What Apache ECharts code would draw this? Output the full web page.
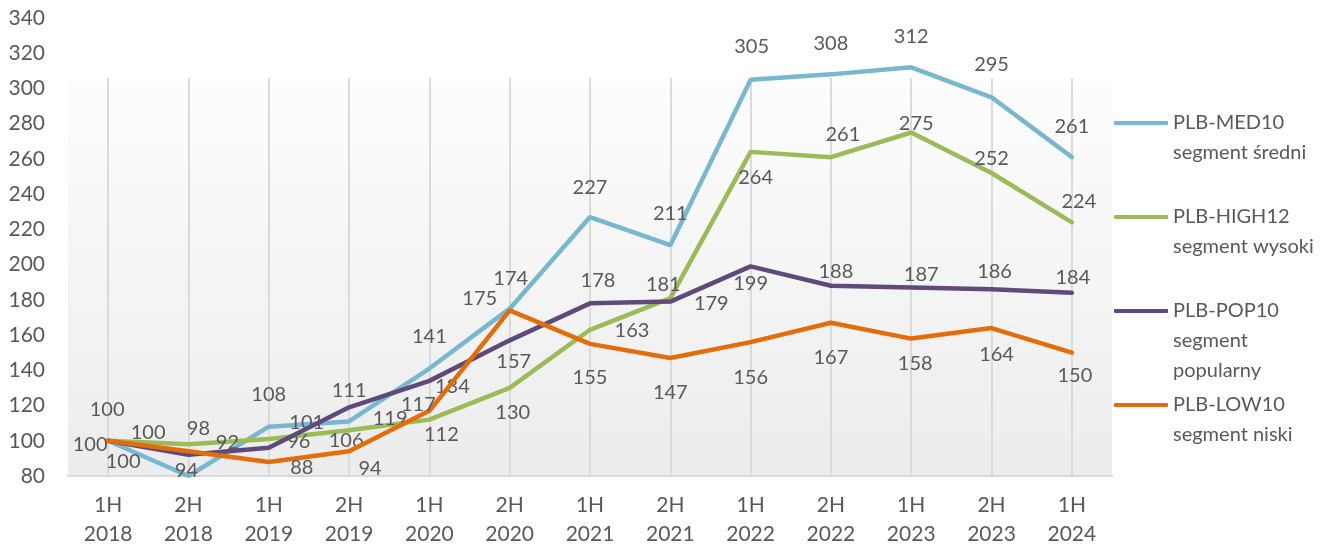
<!DOCTYPE html>
<html>
<head>
<meta charset="utf-8">
<script src="https://cdn.jsdelivr.net/npm/echarts@6/dist/echarts.min.js"></script>
<style>
  html, body { margin: 0; padding: 0; background: #ffffff; }
  #chart { width: 1344px; height: 551px; }
</style>
</head>
<body>
<div id="chart"></div>
<script>
// ---- data ----
const categories = ['1H\n2018', '2H\n2018', '1H\n2019', '2H\n2019', '1H\n2020', '2H\n2020', '1H\n2021',
                    '2H\n2021', '1H\n2022', '2H\n2022', '1H\n2023', '2H\n2023', '1H\n2024'];
const seriesNames = ['PLB-MED10\nsegment średni', 'PLB-HIGH12\nsegment wysoki',
                     'PLB-POP10\nsegment\npopularny', 'PLB-LOW10\nsegment niski'];
const med10  = [100, 80, 108, 111, 141, 175, 227, 211, 305, 308, 312, 295, 261];
const high12 = [100, 98, 101, 106, 112, 130, 163, 181, 264, 261, 275, 252, 224];
const pop10  = [100, 92, 96, 119, 134, 157, 178, 179, 199, 188, 187, 186, 184];
const low10  = [100, 94, 88, 94, 117, 174, 155, 147, 156, 167, 158, 164, 150];
const yMin = 80, yMax = 340, yStep = 20;

// ---- styling / label placement (relative to each point) ----
const colors = ['#77B7CF', '#9BBB59', '#5F4A7C', '#E46C0A'];
const labelOffsets = [
  [[-1,-31], null, [0,-32], [0,-31], [0,-32], [-30,-10], [0,-30], [0,-32], [1,-33], [0,-31], [0,-31], [0,-33], [0,-31]],
  [[-18,4], [10,-16], [38,-16], [-3,10], [12,15], [3,25], [42,1], [-7,-14], [5,26], [12,-23], [5,-9], [0,-14], [7,-21]],
  [[40,-8], [39,-12], [30,-6], [41,11], [23,6], [4,21], [8,-23], [41,2], [0,17], [5,-14], [10,-13], [3,-18], [1,-15]],
  [[15,21], [-2,19], [33,6], [21,17], [-11,-6], [1,-32], [0,34], [0,35], [0,35], [0,35], [4,25], [5,27], [3,23]]
];
const legendTops = [78, 172, 236, 360];
const FONT = 'Lato';
const TXT = '#595959';

const values = [med10, high12, pop10, low10];

const series = values.map((vals, s) => ({
  name: seriesNames[s],
  type: 'line',
  xAxisIndex: 1,
  yAxisIndex: 1,
  color: colors[s],
  symbol: 'circle',
  symbolSize: 1,
  showSymbol: true,
  lineStyle: { width: 4.5, color: colors[s], cap: 'round' },
  itemStyle: { color: colors[s] },
  z: 2 + s,
  label: {
    show: true, position: 'inside',
    fontFamily: FONT, fontSize: 20, color: TXT
  },
  data: vals.map((v, i) => {
    const off = labelOffsets[s][i];
    return off ? { value: v, label: { offset: off } } : { value: v, label: { show: false } };
  })
}));

const legends = seriesNames.map((n, k) => ({
  data: [n],
  orient: 'vertical',
  left: 1114,
  top: legendTops[k],
  padding: 0,
  icon: 'roundRect',
  itemWidth: 54,
  itemHeight: 4,
  itemGap: 0,
  textStyle: { fontFamily: FONT, fontSize: 20, color: TXT, lineHeight: 30, padding: [0, 0, 0, 0] },
  formatter: name => '\n'.repeat(name.split('\n').length - 1) + name
}));

const option = {
  animation: false,
  backgroundColor: '#ffffff',
  legend: legends,
  grid: [
    { // plot-area background and vertical gridlines
      left: 68, right: 232, top: 78, bottom: 75, show: true, borderWidth: 0,
      backgroundColor: { type: 'linear', x: 0, y: 0, x2: 0, y2: 1,
        colorStops: [{ offset: 0, color: '#fdfdfd' }, { offset: 1, color: '#ececec' }] }
    },
    { left: 68, right: 232, top: 18, bottom: 75, show: false }
  ],
  xAxis: [
    {
      gridIndex: 0, type: 'category', data: categories, boundaryGap: true,
      axisLine: { show: false }, axisTick: { show: false }, axisLabel: { show: false },
      splitLine: { show: true, alignWithLabel: true, lineStyle: { color: '#dadada', width: 2 } }
    },
    {
      gridIndex: 1, type: 'category', data: categories, boundaryGap: true,
      axisLine: { show: true, lineStyle: { color: '#d9d9d9', width: 2 } },
      axisTick: { show: false },
      splitLine: { show: false },
      axisLabel: { fontFamily: FONT, fontSize: 21, color: TXT, lineHeight: 29, margin: 15 }
    }
  ],
  yAxis: [
    {
      gridIndex: 0, type: 'value', min: yMin, max: 300, show: false
    },
    {
      gridIndex: 1, type: 'value', min: yMin, max: yMax, interval: yStep,
      axisLine: { show: false }, axisTick: { show: false }, splitLine: { show: false },
      axisLabel: { fontFamily: FONT, fontSize: 21, color: TXT, margin: 23 }
    }
  ],
  series: series
};

const chart = echarts.init(document.getElementById('chart'), null, { renderer: 'canvas' });
chart.setOption(option);
</script>
</body>
</html>
